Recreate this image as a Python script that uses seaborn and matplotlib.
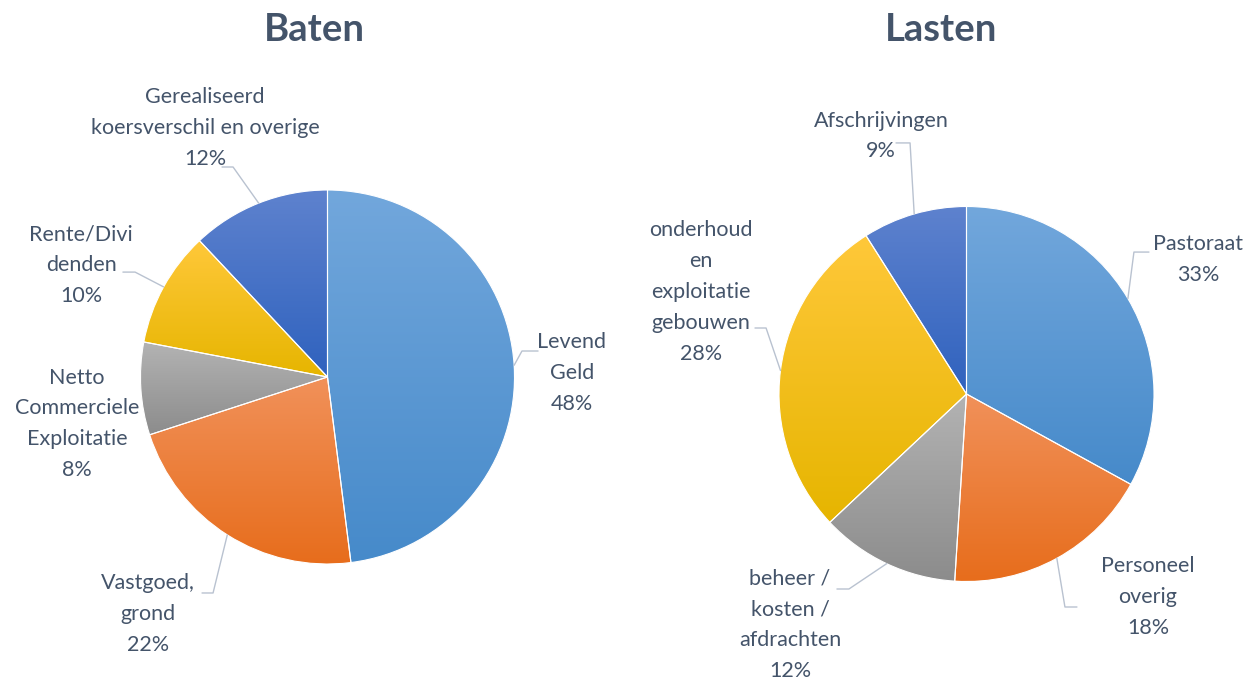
import numpy as np
import matplotlib
matplotlib.use("Agg")
import matplotlib.pyplot as plt
from matplotlib.colors import LinearSegmentedColormap
import seaborn as sns

# data
baten_labels = ["Levend\nGeld", "Vastgoed,\ngrond", "Netto\nCommerciele\nExploitatie",
                "Rente/Divi\ndenden", "Gerealiseerd\nkoersverschil en overige"]
baten_values = [48, 22, 8, 10, 12]

lasten_labels = ["Pastoraat", "Personeel\noverig", "beheer /\nkosten /\nafdrachten",
                 "onderhoud\nen\nexploitatie\ngebouwen", "Afschrijvingen"]
lasten_values = [33, 18, 12, 28, 9]

# (top, bottom) gradient colours per slice
slice_colors = [("#72A7DC", "#468ACA"), ("#F1915A", "#E76D1C"), ("#B3B3B3", "#8C8C8C"),
                ("#FFC83A", "#E6B500"), ("#5E82CE", "#2F62BE")]

text_color = "#44546A"
line_color = "#B9C2D0"

sns.set_theme(style="white")
plt.rcParams['font.family'] = ['Lato', 'DejaVu Sans']

fig = plt.figure(figsize=(12.57, 6.81), dpi=100)
W, H = 1257, 681
L = 1.6


def make_axes(cx, cy, s):
    # cx, cy in pixels from top-left, s = pixels per radius unit
    half = L * s
    return fig.add_axes([(cx - half) / W, (H - cy - half) / H, 2 * half / W, 2 * half / H])


def draw_pie(ax, labels, values, label_pos, leaders):
    wedges, _ = ax.pie(values, startangle=90, counterclock=False, radius=1,
                       wedgeprops=dict(edgecolor="white", linewidth=0.8))
    grad = np.linspace(0, 1, 256).reshape(-1, 1)
    for w, (ctop, cbot) in zip(wedges, slice_colors):
        ext = w.get_path().get_extents()
        cmap = LinearSegmentedColormap.from_list("g", [cbot, ctop])
        im = ax.imshow(grad, cmap=cmap, origin="lower", aspect="auto", zorder=1,
                       extent=[ext.x0, ext.x1, ext.y0, ext.y1])
        im.set_clip_path(w)
        w.set_facecolor("none")
        w.set_zorder(2)
    total = sum(values)
    for w, lab, v, pos, ld in zip(wedges, labels, values, label_pos, leaders):
        ax.text(pos[0], pos[1], f"{lab}\n{v / total * 100:.0f}%", ha="center", va="center",
                fontsize=15.5, color=text_color, linespacing=1.68, zorder=5)
        if ld is not None:
            mid = np.deg2rad((w.theta1 + w.theta2) / 2)
            xs = [ld[0][0], ld[1][0], np.cos(mid)]
            ys = [ld[0][1], ld[1][1], np.sin(mid)]
            ax.plot(xs, ys, color=line_color, lw=1.0, clip_on=False, zorder=4)
    ax.set_xlim(-L, L)
    ax.set_ylim(-L, L)
    ax.set_aspect("equal")
    ax.axis("off")


# label layout (in radius units) and leader line points (label end, elbow)
baten_pos = [(1.307, 0.021), (-0.960, -1.267), (-1.340, -0.251), (-1.318, 0.599), (-0.655, 1.332)]
baten_leaders = [((1.126, 0.139), (1.040, 0.139)), ((-0.671, -1.155), (-0.612, -1.155)), None,
                 ((-1.094, 0.561), (-1.029, 0.561)), ((-0.564, 1.123), (-0.505, 1.123))]

lasten_pos = [(1.235, 0.715), (0.968, -1.083), (-0.941, -1.232), (-1.416, 0.544), (-0.456, 1.376)]
lasten_leaders = [((0.973, 0.757), (0.893, 0.757)), ((0.589, -1.136), (0.525, -1.136)),
                  ((-0.691, -1.040), (-0.627, -1.040)), ((-1.128, 0.352), (-1.069, 0.352)),
                  ((-0.376, 1.339), (-0.301, 1.339))]

ax1 = make_axes(327.5, 377, 187)
draw_pie(ax1, baten_labels, baten_values, baten_pos, baten_leaders)

ax2 = make_axes(966.5, 394, 187.5)
draw_pie(ax2, lasten_labels, lasten_values, lasten_pos, lasten_leaders)

fig.text(314 / W, 1 - 30 / H, "Baten", ha="center", va="center", fontsize=27.5,
         fontweight="bold", color=text_color)
fig.text(941 / W, 1 - 30 / H, "Lasten", ha="center", va="center", fontsize=27.5,
         fontweight="bold", color=text_color)

fig.savefig("out.png", dpi=100)
